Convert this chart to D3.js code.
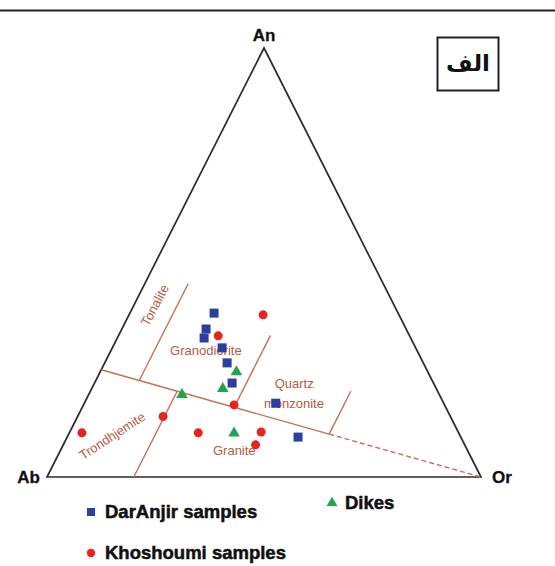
<!DOCTYPE html>
<html>
<head>
<meta charset="utf-8">
<script src="https://cdn.jsdelivr.net/npm/d3@7/dist/d3.min.js"></script>
<style>
  body { margin: 0; background: #fff; }
  svg { display: block; font-family: "Liberation Sans", Arial, sans-serif; }
  .corner { font-weight: bold; font-size: 17px; fill: #111; stroke: #111; stroke-width: 0.3px; }
  .field { font-size: 13px; fill: #b55a40; }
  .legend-text { font-weight: bold; font-size: 18.5px; fill: #111; stroke: #111; stroke-width: 0.5px; }
</style>
</head>
<body>
<div id="chart"></div>
<script>
// values are [An, Ab, Or] in percent
const darAnjir = [
  [38.2, 42.4, 19.4],
  [34.5, 46.1, 19.4],
  [32.4, 47.6, 20.0],
  [30.1, 44.6, 25.3],
  [26.6, 45.2, 28.2],
  [21.9, 46.4, 31.7],
  [17.2, 38.7, 44.1],
  [9.3, 37.5, 53.2],
];
const khoshoumi = [
  [37.8, 31.3, 30.9],
  [32.9, 44.1, 23.0],
  [16.8, 48.5, 34.7],
  [14.1, 66.2, 19.7],
  [10.3, 86.8, 2.9],
  [10.3, 60.0, 29.7],
  [10.5, 45.4, 44.1],
  [7.5, 48.2, 44.3],
];
const dikes = [
  [24.5, 44.1, 31.4],
  [20.6, 49.2, 30.2],
  [19.2, 61.3, 21.5],
  [10.2, 51.8, 38.0],
];

// field boundaries (O'Connor), endpoints as [An, Ab, Or]
const solidLines = [
  [[25, 75, 0], [10, 30, 60]],
  [[22.5, 67.5, 10], [45, 45, 10]],
  [[16.25, 48.75, 35], [33, 32, 35]],
  [[10, 30, 60], [20, 20, 60]],
  [[0, 80, 20], [20, 60, 20]],
];
const dashedLines = [[[10, 30, 60], [0, 0, 100]]];

const fieldNames = ["Tonalite", "Granodiorite", "Quartz", "monzonite", "Granite", "Trondhjemite"];
const fieldPos = [
  [40.1, 55.1, 4.8],
  [29.6, 48.6, 21.8],
  [21.9, 32.1, 46.0],
  [17.2, 34.5, 48.3],
  [6.3, 53.7, 40.0],
  [9.6, 80.2, 10.2],
];
const fieldAngle = [-62, 0, 0, 0, 0, -33];

const W = 555, H = 566;

const svg = d3
  .select("#chart")
  .append("svg")
  .attr("width", W)
  .attr("height", H);

// ternary projection: x from Or + An/2, y from An
const xScale = d3.scaleLinear().domain([0, 100]).range([47, 481]);
const yScale = d3.scaleLinear().domain([0, 100]).range([477, 48]);
const project = (d) => [xScale(d[2] + d[0] / 2), yScale(d[0])];

// top rule of the page
svg.append("line")
  .attr("x1", 0).attr("x2", W)
  .attr("y1", 10.5).attr("y2", 10.5)
  .attr("stroke", "#222")
  .attr("stroke-width", 2);

// triangle
const corners = [[100, 0, 0], [0, 100, 0], [0, 0, 100]];
svg.append("path")
  .attr("d", d3.line()(corners.map(project)) + "Z")
  .attr("fill", "none")
  .attr("stroke", "#2b2b2b")
  .attr("stroke-width", 1.7);

// boundaries
const lineGen = d3.line();
svg.selectAll(".bound")
  .data(solidLines)
  .enter()
  .append("path")
  .attr("class", "bound")
  .attr("d", (d) => lineGen(d.map(project)))
  .attr("stroke", "#c4704f")
  .attr("stroke-width", 1.4)
  .attr("fill", "none");

svg.selectAll(".bound-dash")
  .data(dashedLines)
  .enter()
  .append("path")
  .attr("class", "bound-dash")
  .attr("d", (d) => lineGen(d.map(project)))
  .attr("stroke", "#c4704f")
  .attr("stroke-width", 1.4)
  .attr("stroke-dasharray", "5,3")
  .attr("fill", "none");

// field labels
svg.selectAll(".field")
  .data(fieldNames)
  .enter()
  .append("text")
  .attr("class", "field")
  .attr("text-anchor", "middle")
  .attr("dy", "0.35em")
  .attr("transform", (d, i) => {
    const [px, py] = project(fieldPos[i]);
    return `translate(${px},${py}) rotate(${fieldAngle[i]})`;
  })
  .text((d) => d);

// corner labels
svg.append("text").attr("class", "corner")
  .attr("x", 264).attr("y", 35).attr("dy", "0.35em")
  .attr("text-anchor", "middle").text("An");
svg.append("text").attr("class", "corner")
  .attr("x", 40).attr("y", 477).attr("dy", "0.35em")
  .attr("text-anchor", "end").text("Ab");
svg.append("text").attr("class", "corner")
  .attr("x", 492).attr("y", 477).attr("dy", "0.35em")
  .attr("text-anchor", "start").text("Or");

// samples
const colors = { dar: "#2a3f9e", kho: "#e8231d", dike: "#1ea64a" };

svg.selectAll(".kho")
  .data(khoshoumi)
  .enter()
  .append("circle")
  .attr("class", "kho")
  .attr("cx", (d) => project(d)[0])
  .attr("cy", (d) => project(d)[1])
  .attr("r", 4.5)
  .attr("fill", colors.kho);

svg.selectAll(".dar")
  .data(darAnjir)
  .enter()
  .append("rect")
  .attr("class", "dar")
  .attr("x", (d) => project(d)[0] - 4.5)
  .attr("y", (d) => project(d)[1] - 4.5)
  .attr("width", 9)
  .attr("height", 9)
  .attr("fill", colors.dar);

const tri = d3.symbol().type(d3.symbolTriangle).size(58);
svg.selectAll(".dike")
  .data(dikes)
  .enter()
  .append("path")
  .attr("class", "dike")
  .attr("d", tri)
  .attr("transform", (d) => `translate(${project(d)[0]},${project(d)[1]})`)
  .attr("fill", colors.dike);

// legend
svg.append("rect")
  .attr("x", 87).attr("y", 508).attr("width", 8).attr("height", 8)
  .attr("fill", colors.dar);
svg.append("text").attr("class", "legend-text")
  .attr("x", 105).attr("y", 512).attr("dy", "0.35em")
  .text("DarAnjir samples");

svg.append("circle")
  .attr("cx", 91).attr("cy", 553).attr("r", 4.2)
  .attr("fill", colors.kho);
svg.append("text").attr("class", "legend-text")
  .attr("x", 105).attr("y", 553).attr("dy", "0.35em")
  .text("Khoshoumi samples");

svg.append("path")
  .attr("d", d3.symbol().type(d3.symbolTriangle).size(50))
  .attr("transform", "translate(332,503)")
  .attr("fill", colors.dike);
svg.append("text").attr("class", "legend-text")
  .attr("x", 345).attr("y", 503).attr("dy", "0.35em")
  .text("Dikes");

// panel tag
svg.append("rect")
  .attr("x", 437.5).attr("y", 37.5).attr("width", 61).attr("height", 53)
  .attr("fill", "none")
  .attr("stroke", "#222")
  .attr("stroke-width", 2);
svg.append("text")
  .attr("x", 468).attr("y", 63).attr("dy", "0.35em")
  .attr("text-anchor", "middle")
  .style("font-family", "'DejaVu Sans', sans-serif")
  .style("font-weight", "bold")
  .style("font-size", "23px")
  .attr("fill", "#111")
  .text("الف");
</script>
</body>
</html>
